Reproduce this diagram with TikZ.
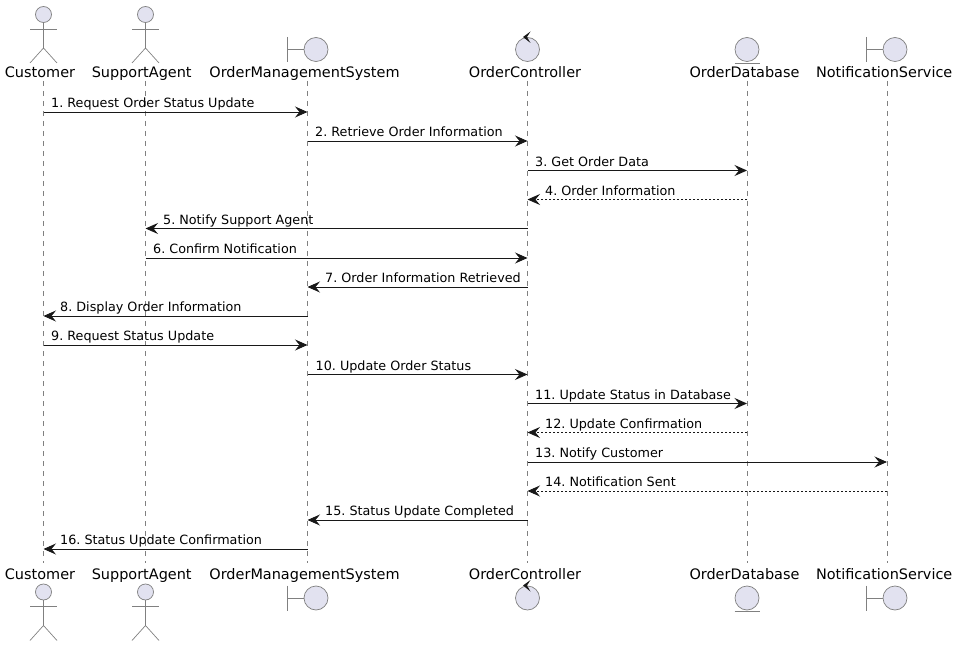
\documentclass[tikz,border=0pt]{standalone}
\usepackage{fontspec}
\setmainfont{DejaVu Sans}
\usetikzlibrary{arrows.meta}

\definecolor{partfill}{HTML}{E2E2F0}
\definecolor{partline}{HTML}{181818}

\tikzset{
    msg/.style={-{Stealth[length=12.5pt,width=11pt,inset=4.5pt]},line width=0.9pt,draw=partline},
    reply/.style={msg,dash pattern=on 2pt off 2pt},
    life/.style={line width=0.6pt,draw=partline!55,dash pattern=on 5pt off 5pt},
    part/.style={line width=0.7pt,draw=partline!55},
    blob/.style={part,fill=partfill},
    msglabel/.style={anchor=base west,font=\fontsize{12.75}{13}\selectfont\frenchspacing,inner sep=0pt,text=black},
    partlabel/.style={anchor=base,font=\fontsize{14.45}{14.5}\selectfont,inner sep=0pt,text=black},
    % one figure per participant kind, centred on the head or the circle
    actorfig/.pic={
        \draw [blob] (0,0) circle (8);
        \draw [part] (0,8) -- (0,33.5) (-13.5,14.5) -- (13.5,14.5);
        \draw [part] (-13.5,48.5) -- (0,33.5) -- (13.5,48.5);
    },
    boundaryfig/.pic={
        \draw [part] (-28.5,-12.5) -- (-28.5,12.5) (-28.5,0) -- (-12,0);
        \draw [blob] (0,0) circle (12);
    },
    controlfig/.pic={
        \draw [blob] (0,0) circle (12);
        \fill [partline] (-4.5,-12.5) -- (3,-18) -- (-0.5,-12.5) -- (3,-6.5) -- cycle;
    },
    entityfig/.pic={
        \draw [blob] (0,0) circle (12);
        \draw [part] (-12.5,13.5) -- (12.5,13.5);
    }
}

\begin{document}
\begin{tikzpicture}[x=1pt,y=-1pt]

    \useasboundingbox (0,0) rectangle (959,647);

    % Lifeline ends
    \coordinate (cust) at (43.5,81);
    \coordinate (agent) at (145.5,81);
    \coordinate (oms) at (307.5,81);
    \coordinate (ctrl) at (527.5,81);
    \coordinate (db) at (747,81);
    \coordinate (notif) at (887,81);
    \coordinate (custend) at (43.5,563);
    \coordinate (agentend) at (145.5,563);
    \coordinate (omsend) at (307.5,563);
    \coordinate (ctrlend) at (527.5,563);
    \coordinate (dbend) at (747,563);
    \coordinate (notifend) at (887,563);

    % Lifelines
    \draw [life] (cust) -- (custend);
    \draw [life] (agent) -- (agentend);
    \draw [life] (oms) -- (omsend);
    \draw [life] (ctrl) -- (ctrlend);
    \draw [life] (db) -- (dbend);
    \draw [life] (notif) -- (notifend);

    % Top row
    \pic at (43.5,14.5) {actorfig};
    \pic at (145.5,14.5) {actorfig};
    \pic at (316,49.5) {boundaryfig};
    \pic at (527.5,49.5) {controlfig};
    \pic at (747,49.5) {entityfig};
    \pic at (895,49.5) {boundaryfig};
    \node [partlabel] (custtop) at (40,78) {Customer};
    \node [partlabel] (agenttop) at (141.7,78) {SupportAgent};
    \node [partlabel] (omstop) at (304.5,78) {OrderManagementSystem};
    \node [partlabel] (ctrltop) at (525,78) {OrderController};
    \node [partlabel] (dbtop) at (744.5,78) {OrderDatabase};
    \node [partlabel] (notiftop) at (884.2,78) {NotificationService};

    % Bottom row
    \pic at (43.5,592) {actorfig};
    \pic at (145.5,592) {actorfig};
    \pic at (316,598) {boundaryfig};
    \pic at (527.5,598) {controlfig};
    \pic at (747,598) {entityfig};
    \pic at (895,598) {boundaryfig};
    \node [partlabel] (custbot) at (40,579) {Customer};
    \node [partlabel] (agentbot) at (141.7,579) {SupportAgent};
    \node [partlabel] (omsbot) at (304.5,579) {OrderManagementSystem};
    \node [partlabel] (ctrlbot) at (525,579) {OrderController};
    \node [partlabel] (dbbot) at (744.5,579) {OrderDatabase};
    \node [partlabel] (notifbot) at (884.2,579) {NotificationService};

    % Order status lookup
    \draw [msg] (cust |- 0,112) -- (oms |- 0,112);
    \node [msglabel] (m1) at (51,107.5) {1. Request Order Status Update};
    \draw [msg] (oms |- 0,141) -- (ctrl |- 0,141);
    \node [msglabel] (m2) at (315,136.5) {2. Retrieve Order Information};
    \draw [msg] (ctrl |- 0,170.5) -- (db |- 0,170.5);
    \node [msglabel] (m3) at (535,166.5) {3. Get Order Data};
    \draw [reply] (db |- 0,199.5) -- (ctrl |- 0,199.5);
    \node [msglabel] (m4) at (545,195.5) {4. Order Information};
    \draw [msg] (ctrl |- 0,228.5) -- (agent |- 0,228.5);
    \node [msglabel] (m5) at (163,224.5) {5. Notify Support Agent};
    \draw [msg] (agent |- 0,258) -- (ctrl |- 0,258);
    \node [msglabel] (m6) at (153,253.5) {6. Confirm Notification};
    \draw [msg] (ctrl |- 0,287) -- (oms |- 0,287);
    \node [msglabel] (m7) at (325,282.5) {7. Order Information Retrieved};
    \draw [msg] (oms |- 0,316) -- (cust |- 0,316);
    \node [msglabel] (m8) at (60,311.5) {8. Display Order Information};

    % Status update
    \draw [msg] (cust |- 0,345) -- (oms |- 0,345);
    \node [msglabel] (m9) at (51,340.5) {9. Request Status Update};
    \draw [msg] (oms |- 0,374.5) -- (ctrl |- 0,374.5);
    \node [msglabel] (m10) at (315.5,370.5) {10. Update Order Status};
    \draw [msg] (ctrl |- 0,403.5) -- (db |- 0,403.5);
    \node [msglabel] (m11) at (535,399.5) {11. Update Status in Database};
    \draw [reply] (db |- 0,432.5) -- (ctrl |- 0,432.5);
    \node [msglabel] (m12) at (545,428.5) {12. Update Confirmation};
    \draw [msg] (ctrl |- 0,462) -- (notif |- 0,462);
    \node [msglabel] (m13) at (535,457.5) {13. Notify Customer};
    \draw [reply] (notif |- 0,491) -- (ctrl |- 0,491);
    \node [msglabel] (m14) at (545,486.5) {14. Notification Sent};
    \draw [msg] (ctrl |- 0,520) -- (oms |- 0,520);
    \node [msglabel] (m15) at (325,515.5) {15. Status Update Completed};
    \draw [msg] (oms |- 0,549) -- (cust |- 0,549);
    \node [msglabel] (m16) at (60,544.5) {16. Status Update Confirmation};

\end{tikzpicture}
\end{document}
